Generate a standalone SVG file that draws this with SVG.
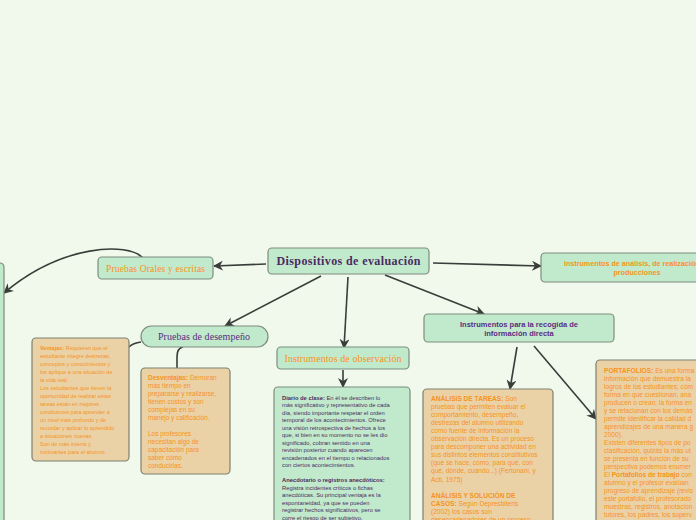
<svg xmlns="http://www.w3.org/2000/svg" width="696" height="520" viewBox="0 0 696 520">
<style>
.bg{fill:#f1f9ec}
.g{fill:#c1eacc;stroke:#7d8c7e;stroke-width:1.2}
.t{fill:#ead2a6;stroke:#7d8070;stroke-width:1.2}
.ser{font-family:"Liberation Serif","DejaVu Serif",serif}
.sans{font-family:"Liberation Sans",Arial,sans-serif}
.or{fill:#f7931e}
.pu{fill:#5b2c83}
.dk{fill:#4a2a62}
.b{font-weight:bold}
.c{fill:none;stroke:#3a3d3a;stroke-width:1.6}
</style>
<defs>
<marker id="ar" markerUnits="userSpaceOnUse" markerWidth="10" markerHeight="10" viewBox="0 0 10 10" refX="9" refY="5" orient="auto">
<path d="M0,0 L10,5 L0,10 L3,5 z" fill="#3a3d3a"/>
</marker>
</defs>
<rect class="bg" x="0" y="0" width="696" height="520"/>

<g id="connectors">
<path class="c" d="M266 264 L214 266" marker-end="url(#ar)"/>
<path class="c" d="M143 258 C128 242 62 244 4 293" marker-end="url(#ar)"/>
<path class="c" d="M321 276 L225 326" marker-end="url(#ar)"/>
<path class="c" d="M348 277 L344 348" marker-end="url(#ar)"/>
<path class="c" d="M385 275 L484 314" marker-end="url(#ar)"/>
<path class="c" d="M433 263 L541 266" marker-end="url(#ar)"/>
<path class="c" d="M141 342 Q133 343 129 347"/>
<path class="c" d="M183 347 Q177 348 177 357 L177 368"/>
<path class="c" d="M343 370 L343 387" marker-end="url(#ar)"/>
<path class="c" d="M517 347 L510 389" marker-end="url(#ar)"/>
<path class="c" d="M534 346 L596 419" marker-end="url(#ar)"/>
</g>

<g id="left-node">
<rect class="g" x="-20" y="263" width="24" height="300" rx="4"/>
</g>

<g id="dispositivos">
<rect class="g" x="268" y="248" width="161" height="26" rx="4"/>
<text class="ser b dk" x="348.5" y="265" font-size="12" text-anchor="middle" textLength="144">Dispositivos de evaluación</text>
</g>

<g id="orales">
<rect class="g" x="98" y="257" width="115" height="22" rx="4"/>
<text class="ser or" x="155.5" y="272" font-size="9.5" text-anchor="middle" textLength="99">Pruebas Orales y escritas</text>
</g>

<g id="desempeno">
<rect class="g" x="141" y="326" width="127" height="21" rx="10.5"/>
<text class="ser pu" x="204" y="340" font-size="10" text-anchor="middle" textLength="92">Pruebas de desempeño</text>
</g>

<g id="observacion">
<rect class="g" x="277" y="347" width="132" height="22" rx="4"/>
<text class="ser or" x="343" y="362" font-size="10" text-anchor="middle" textLength="117">Instrumentos de observación</text>
</g>

<g id="recogida">
<rect class="g" x="424" y="314" width="190" height="28" rx="4"/>
<text class="sans b pu" font-size="7.5" text-anchor="middle"><tspan x="519" y="326.5">Instrumentos para la  recogida de</tspan><tspan x="519" y="335.5">información directa</tspan></text>
</g>

<g id="analisis">
<rect class="g" x="541" y="253" width="190" height="29" rx="4"/>
<text class="sans b or" font-size="7.2" text-anchor="middle"><tspan x="637" y="265.5">Instrumentos de análisis, de realización de</tspan><tspan x="637" y="274.5">producciones</tspan></text>
</g>

<g id="ventajas">
<rect class="t" x="32" y="338" width="97" height="123" rx="4"/>
<text class="sans or" font-size="5.5">
<tspan x="40" y="350.3"><tspan class="b">Ventajas:</tspan> Requieren que el</tspan>
<tspan x="40" y="358.3">estudiante integre destrezas,</tspan>
<tspan x="40" y="366.3">conceptos y conocimientos y</tspan>
<tspan x="40" y="374.3">los aplique a una situación de</tspan>
<tspan x="40" y="382.3">la vida real.</tspan>
<tspan x="40" y="390.3">Los estudiantes que tienen la</tspan>
<tspan x="40" y="398.3">oportunidad de realizar estas</tspan>
<tspan x="40" y="406.3">tareas están en mejores</tspan>
<tspan x="40" y="414.3">condiciones para aprender a</tspan>
<tspan x="40" y="422.3">un nivel más profundo y de</tspan>
<tspan x="40" y="430.3">recordar y aplicar lo aprendido</tspan>
<tspan x="40" y="438.3">a situaciones nuevas.</tspan>
<tspan x="40" y="446.3">Son de más intenis y</tspan>
<tspan x="40" y="454.3">motivantes para el alumno.</tspan>
</text>
</g>

<g id="desventajas">
<rect class="t" x="141" y="368" width="89" height="106" rx="4"/>
<text class="sans or" font-size="6.5">
<tspan x="148" y="380"><tspan class="b">Desventajas:</tspan> Demoran</tspan>
<tspan x="148" y="388">más tiempo en</tspan>
<tspan x="148" y="396">prepararse y realizarse,</tspan>
<tspan x="148" y="404">tienen costos y son</tspan>
<tspan x="148" y="412">complejas en  su</tspan>
<tspan x="148" y="420">manejo y calificación.</tspan>
<tspan x="148" y="436">Los profesores</tspan>
<tspan x="148" y="444">necesitan algo de</tspan>
<tspan x="148" y="452">capacitación para</tspan>
<tspan x="148" y="460">saber cómo</tspan>
<tspan x="148" y="468">conducirlas.</tspan>
</text>
</g>

<g id="observacion-detalle">
<rect class="g" x="274" y="387" width="136" height="150" rx="4"/>
<text class="sans dk" font-size="5.8">
<tspan x="282" y="399.5"><tspan class="b">Diario de clase:</tspan> En él se describen lo</tspan>
<tspan x="282" y="407">más significativo y representativo de cada</tspan>
<tspan x="282" y="414.5">día, siendo importante respetar el orden</tspan>
<tspan x="282" y="422">temporal de los acontecimientos. Ofrece</tspan>
<tspan x="282" y="429.5">una visión retrospectiva de hechos a los</tspan>
<tspan x="282" y="437">que, si bien en su momento no se les dio</tspan>
<tspan x="282" y="444.5">significado, cobran sentido en una</tspan>
<tspan x="282" y="452">revisión posterior cuando aparecen</tspan>
<tspan x="282" y="459.5">encadenados en el tiempo o relacionados</tspan>
<tspan x="282" y="467">con ciertos acontecimientos.</tspan>
<tspan x="282" y="482" class="b">Anecdotario o registros anecdóticos:</tspan>
<tspan x="282" y="489.5">Registra incidentes críticos o fichas</tspan>
<tspan x="282" y="497">anecdóticas. Su principal ventaja es la</tspan>
<tspan x="282" y="504.5">espontaneidad, ya que se pueden</tspan>
<tspan x="282" y="512">registrar hechos significativos, pero se</tspan>
<tspan x="282" y="519.5">corre el riesgo de ser subjetivo.</tspan>
</text>
</g>

<g id="tareas">
<rect class="t" x="423" y="389" width="130" height="150" rx="4"/>
<text class="sans or" font-size="6.6">
<tspan x="431" y="400.5"><tspan class="b">ANÁLISIS DE TAREAS:</tspan> Son</tspan>
<tspan x="431" y="408.6">pruebas que permiten evaluar el</tspan>
<tspan x="431" y="416.7">comportamiento, desempeño,</tspan>
<tspan x="431" y="424.8">destrezas del alumno utilizando</tspan>
<tspan x="431" y="432.9">como fuente de información la</tspan>
<tspan x="431" y="441">observación directa. Es un proceso</tspan>
<tspan x="431" y="449.1">para descomponer una actividad en</tspan>
<tspan x="431" y="457.2">sus distintos elementos constitutivos</tspan>
<tspan x="431" y="465.3">(qué se hace, cómo, para qué, con</tspan>
<tspan x="431" y="473.4">qué, dónde, cuándo...) (Fertonani, y</tspan>
<tspan x="431" y="481.5">Acti, 1975)</tspan>
<tspan x="431" y="497.7" class="b">ANÁLISIS Y SOLUCIÓN DE</tspan>
<tspan x="431" y="505.8"><tspan class="b">CASOS:</tspan> Según Depresbiteris</tspan>
<tspan x="431" y="513.9">(2002) los casos son</tspan>
<tspan x="431" y="522">desencadenadores de un proceso</tspan>
</text>
</g>

<g id="portafolios">
<rect class="t" x="596" y="360" width="130" height="180" rx="4"/>
<text class="sans or" font-size="6.6">
<tspan x="604" y="372.5"><tspan class="b">PORTAFOLIOS:</tspan> Es una forma</tspan>
<tspan x="604" y="380.5">información que demuestra la</tspan>
<tspan x="604" y="388.5">logros de los estudiantes; cóm</tspan>
<tspan x="604" y="396.5">forma en que cuestionan, ana</tspan>
<tspan x="604" y="404.5">producen o crean; la forma en</tspan>
<tspan x="604" y="412.5">y se relacionan con los demás</tspan>
<tspan x="604" y="420.5">permite identificar la calidad d</tspan>
<tspan x="604" y="428.5">aprendizajes de una manera g</tspan>
<tspan x="604" y="436.5">2000).</tspan>
<tspan x="604" y="444.5">Existen diferentes tipos de po</tspan>
<tspan x="604" y="452.5">clasificación, quizás la más ut</tspan>
<tspan x="604" y="460.5">se presenta en función de su</tspan>
<tspan x="604" y="468.5">perspectiva podemos enumer</tspan>
<tspan x="604" y="476.5">El <tspan class="b">Portafolios de trabajo</tspan> con</tspan>
<tspan x="604" y="484.5">alumno y el profesor evalúan</tspan>
<tspan x="604" y="492.5">progreso de aprendizaje (revis</tspan>
<tspan x="604" y="500.5">este portafolio, el profesorado</tspan>
<tspan x="604" y="508.5">muestras, registros, anotacion</tspan>
<tspan x="604" y="516.5">tutores, los padres, los superv</tspan>
</text>
</g>
</svg>
